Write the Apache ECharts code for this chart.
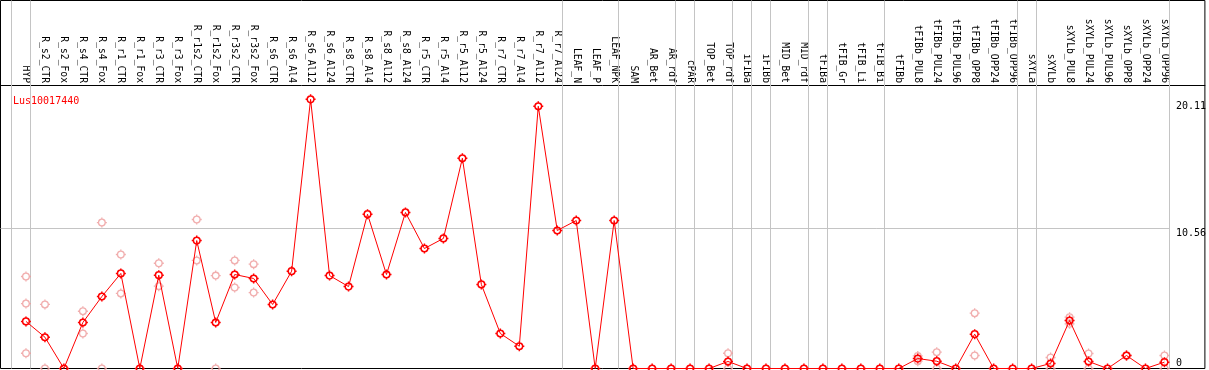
<!DOCTYPE html>
<html>
<head>
<meta charset="utf-8">
<script src="https://cdn.jsdelivr.net/npm/echarts@6/dist/echarts.min.js"></script>
<style>
html, body { margin: 0; padding: 0; background: #fff; }
#chart { width: 1209px; height: 370px; }
</style>
</head>
<body>
<div id="chart"></div>
<script>
var geneName = 'Lus10017440';

// tissue / sample names, left to right
var cats = ['HYP',
    'R_s2_CTR', 'R_s2_Fox', 'R_s4_CTR', 'R_s4_Fox', 'R_r1_CTR', 'R_r1_Fox', 'R_r3_CTR', 'R_r3_Fox',
    'R_r1s2_CTR', 'R_r1s2_Fox', 'R_r3s2_CTR', 'R_r3s2_Fox',
    'R_s6_CTR', 'R_s6_Al4', 'R_s6_Al12', 'R_s6_Al24', 'R_s8_CTR', 'R_s8_Al4', 'R_s8_Al12', 'R_s8_Al24',
    'R_r5_CTR', 'R_r5_Al4', 'R_r5_Al12', 'R_r5_Al24', 'R_r7_CTR', 'R_r7_Al4', 'R_r7_Al12', 'R_r7_Al24',
    'LEAF_N', 'LEAF_P', 'LEAF_NPK',
    'SAM', 'AR_Bet', 'AR_rdf', 'cPAR', 'TOP_Bet', 'TOP_rdf', 'iFIBa', 'iFIBb', 'MID_Bet', 'MID_rdf',
    'tFIBa', 'tFIB_Gr', 'tFIB_Li', 'tFIB_Bi',
    'tFIBb', 'tFIBb_PUL8', 'tFIBb_PUL24', 'tFIBb_PUL96', 'tFIBb_OPP8', 'tFIBb_OPP24', 'tFIBb_OPP96',
    'sXYLa',
    'sXYLb', 'sXYLb_PUL8', 'sXYLb_PUL24', 'sXYLb_PUL96', 'sXYLb_OPP8', 'sXYLb_OPP24', 'sXYLb_OPP96'];

// mean expression
var means = [3.55,
    2.36, 0, 3.47, 5.43, 7.17, 0, 7.04, 0,
    9.65, 3.47, 7.09, 6.79,
    4.83, 7.34, 20.3, 7.01, 6.18, 11.64, 7.09, 11.77,
    9.05, 9.81, 15.86, 6.34, 2.64, 1.68, 19.78, 10.41,
    11.16, 0, 11.16,
    0, 0, 0, 0, 0, 0.53, 0, 0, 0, 0,
    0, 0, 0, 0,
    0, 0.75, 0.55, 0, 2.59, 0, 0,
    0,
    0.38, 3.62, 0.53, 0, 0.98, 0, 0.48];

// replicate values (null = not shown)
var rep1 = [6.94,
    4.83, null, 4.32, 11.01, 8.6, null, 7.94, null,
    11.24, 7.01, 8.15, 7.87,
    null, null, null, null, null, null, null, null,
    null, null, null, null, null, null, null, null,
    null, null, null,
    null, null, null, null, null, 1.15, null, null, null, null,
    null, null, null, null,
    null, 0.95, 1.23, null, 4.17, null, null,
    null,
    0.83, 3.87, 1.13, null, 0.98, null, 0.98];
var rep2 = [4.90,
    0, null, 2.64, 0, 5.66, null, 6.21, null,
    8.15, 0, 6.11, 5.73,
    null, null, null, null, null, null, null, null,
    null, null, null, null, null, null, null, null,
    null, null, null,
    null, null, null, null, null, 0, null, null, null, null,
    null, null, null, null,
    null, 0.55, 0, null, 0.98, null, null,
    null,
    0, 3.37, 0, null, 0.98, null, 0];
var rep3 = [1.15];

// right hand tick labels
var upperTicks = [10.56, 20.11];
var lowerTicks = [0];
var gridValue = 10.56;

// last index of each sample group (separator drawn after it)
var groupEnds = [-1, 0, 28, 31, 34, 35, 37, 38, 39, 41, 42, 45, 52, 53, 60];

var font = 'DejaVu Sans Mono';
var sepShift = 0.24;
var xMin = -1.3421, xMax = 62.132;
var yMax = 27.757;

function toPts(arr) {
    var out = [];
    for (var i = 0; i < arr.length; i++) {
        if (arr[i] !== null && arr[i] !== undefined) out.push([i, arr[i]]);
    }
    return out;
}
var repPts = toPts(rep1).concat(toPts(rep2)).concat(toPts(rep3));
var meanPts = toPts(means);
var idx = [];
for (var i = 0; i < cats.length; i++) idx.push(i);

var sepLines = [];
for (var k = 0; k < groupEnds.length; k++) {
    sepLines.push({xAxis: groupEnds[k] + sepShift});
}
sepLines.push([{coord: [xMin, gridValue]}, {coord: [groupEnds[groupEnds.length - 1] + sepShift, gridValue]}]);

var ring = 'path://M6,2A4,4 0 1 1 6,10A4,4 0 1 1 6,2M6,0L6,2M6,10L6,12M0,6L2,6M10,6L12,6';

var myChart = echarts.init(document.getElementById('chart'), null, {renderer: 'canvas'});
var option = {
    animation: false,
    title: {
        text: geneName,
        left: 8,
        top: 91,
        textStyle: {color: '#ff0000', fontFamily: font, fontSize: 10, fontWeight: 'normal'}
    },
    grid: {
        left: 0.5, top: 0.5, right: 2.5, bottom: 1.5,
        show: true, borderColor: '#000', borderWidth: 1, backgroundColor: '#fff'
    },
    xAxis: {
        type: 'value',
        position: 'top',
        offset: -84.5,
        min: xMin,
        max: xMax,
        axisLine: {show: true, onZero: false, lineStyle: {color: '#000', width: 1}},
        axisTick: {show: false},
        splitLine: {show: false},
        axisLabel: {
            customValues: idx,
            rotate: 90,
            margin: 2,
            color: '#000',
            fontFamily: font,
            fontSize: 9.7,
            formatter: function (v) { return cats[Math.round(v)]; }
        }
    },
    yAxis: [
        {
            type: 'value', position: 'right', min: 0, max: yMax,
            axisLine: {show: false}, axisTick: {show: false}, splitLine: {show: false},
            axisLabel: {
                customValues: upperTicks, inside: true, align: 'left', margin: 29,
                verticalAlign: 'top', color: '#000', fontFamily: font, fontSize: 10,
                formatter: function (v) { return String(v); }
            }
        },
        {
            type: 'value', position: 'right', min: 0, max: yMax,
            axisLine: {show: false}, axisTick: {show: false}, splitLine: {show: false},
            axisLabel: {
                customValues: lowerTicks, inside: true, align: 'left', margin: 29,
                verticalAlign: 'bottom', color: '#000', fontFamily: font, fontSize: 10,
                formatter: function (v) { return String(v); }
            }
        }
    ],
    series: [
        {
            name: 'replicates',
            type: 'scatter',
            z: 2,
            symbol: ring,
            symbolSize: 10,
            itemStyle: {color: 'rgba(0,0,0,0)', borderColor: '#ee9a9a', borderWidth: 1.3},
            data: repPts,
            markLine: {
                silent: true,
                z: 1,
                symbol: ['none', 'none'],
                label: {show: false},
                lineStyle: {color: '#c4c4c4', width: 1, type: 'solid'},
                data: sepLines
            }
        },
        {
            name: geneName,
            type: 'line',
            z: 3,
            symbol: ring,
            symbolSize: 10,
            showAllSymbol: true,
            itemStyle: {color: 'rgba(0,0,0,0)', borderColor: '#ff0000', borderWidth: 1.5},
            lineStyle: {color: '#ff0000', width: 1},
            data: meanPts
        }
    ]
};
myChart.setOption(option);
</script>
</body>
</html>
